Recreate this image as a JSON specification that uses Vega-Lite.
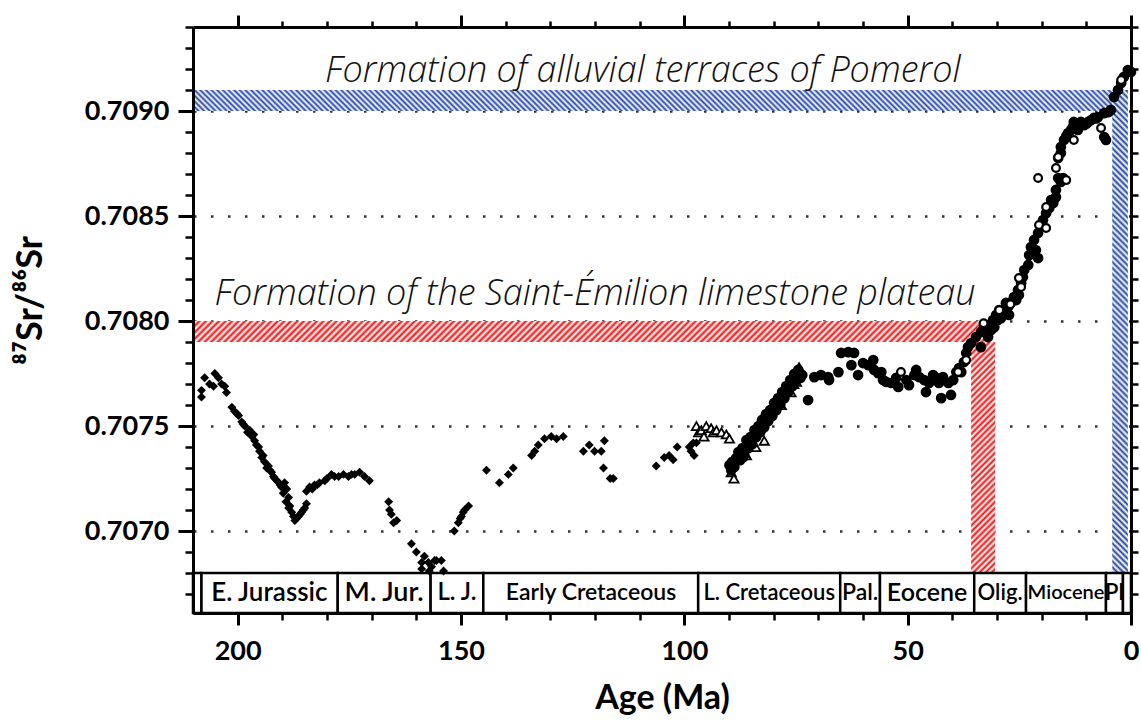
{
"$schema":"https://vega.github.io/schema/vega-lite/v6.json",
"width":938,"height":586,
"autosize":{"type":"none"},
"padding":{"left":193,"top":27,"right":10,"bottom":107},
"background":"white",
"config":{"view":{"stroke":null},"font":"Lato","axis":{"grid":false,"domainColor":"black","tickColor":"black","labelColor":"black","titleColor":"black","labelFont":"Lato","titleFont":"Lato"}},
"resolve":{"axis":{"x":"independent","y":"independent"}},
"datasets":{
"periods":[
{"name":"","start":210,"end":208.1,"mid":209},
{"name":"E. Jurassic","start":208.1,"end":177.6,"mid":192.9},
{"name":"M. Jur.","start":177.6,"end":156.8,"mid":167.2},
{"name":"L. J.","start":156.8,"end":145,"mid":150.9},
{"name":"Early Cretaceous","start":145,"end":96.9,"mid":120.9},
{"name":"L. Cretaceous","start":96.9,"end":65.1,"mid":81},
{"name":"Pal.","start":65.1,"end":56.2,"mid":60.65},
{"name":"Eocene","start":56.2,"end":35.1,"mid":45.65},
{"name":"Olig.","start":35.1,"end":23.5,"mid":29.3},
{"name":"Miocene","start":23.5,"end":5.6,"mid":14.55},
{"name":"Pl","start":5.6,"end":1.8,"mid":3.7},
{"name":"","start":1.8,"end":0,"mid":0.9}
],
"diamonds":[
{"age":208.1,"sr":0.70767},{"age":208.1,"sr":0.707638},{"age":207.4,"sr":0.70773},{"age":206.3,"sr":0.7077},{"age":205.4,"sr":0.70769},{"age":205.1,"sr":0.70775},{"age":204.3,"sr":0.70773},{"age":203.6,"sr":0.7077},{"age":202.9,"sr":0.70769},{"age":202.5,"sr":0.70766},
{"age":201.3,"sr":0.70759},{"age":200.7,"sr":0.70757},{"age":200.2,"sr":0.70756},{"age":199.8,"sr":0.70755},{"age":199.1,"sr":0.70752},{"age":198.8,"sr":0.70751},{"age":198.4,"sr":0.7075},{"age":197.8,"sr":0.70747},{"age":197.3,"sr":0.70748},{"age":196.8,"sr":0.70745},{"age":196.4,"sr":0.70746},{"age":196.2,"sr":0.70743},{"age":195.8,"sr":0.70741},{"age":195.3,"sr":0.7074},{"age":195.1,"sr":0.70738},{"age":194.6,"sr":0.70735},{"age":194.3,"sr":0.70736},{"age":194,"sr":0.70733},{"age":193.5,"sr":0.7073},{"age":193.1,"sr":0.70731},{"age":192.8,"sr":0.70729},{"age":192.4,"sr":0.70728},{"age":192,"sr":0.70726},{"age":191.7,"sr":0.70725},{"age":191.2,"sr":0.70724},{"age":190.8,"sr":0.70723},{"age":190.5,"sr":0.70722},{"age":190.2,"sr":0.70721},{"age":189.8,"sr":0.70718},{"age":189.5,"sr":0.70723},{"age":189.2,"sr":0.70714},{"age":189,"sr":0.7072},{"age":188.6,"sr":0.70716},{"age":188.6,"sr":0.70711},{"age":188.3,"sr":0.70712},{"age":187.9,"sr":0.70709},{"age":187.5,"sr":0.70707},{"age":187.2,"sr":0.70705},{"age":186.8,"sr":0.70706},{"age":186.4,"sr":0.70707},{"age":186,"sr":0.70708},{"age":185.7,"sr":0.70709},{"age":185.3,"sr":0.7071},{"age":185,"sr":0.70711},{"age":184.6,"sr":0.70713},
{"age":184.6,"sr":0.70719},{"age":183.9,"sr":0.70721},{"age":183.3,"sr":0.7072},{"age":182.8,"sr":0.70722},{"age":182.2,"sr":0.70722},{"age":181.7,"sr":0.70723},{"age":180.5,"sr":0.70724},{"age":180,"sr":0.70725},{"age":179,"sr":0.70727},{"age":178.3,"sr":0.70726},{"age":177.4,"sr":0.70726},{"age":176.3,"sr":0.70727},{"age":175.2,"sr":0.70726},{"age":174.5,"sr":0.70727},{"age":173.8,"sr":0.70727},{"age":172.7,"sr":0.70728},{"age":171.6,"sr":0.70726},{"age":170.5,"sr":0.70724},
{"age":166.2,"sr":0.70714},{"age":166,"sr":0.7071},{"age":165.6,"sr":0.70708},{"age":165.1,"sr":0.70704},{"age":164.4,"sr":0.70705},
{"age":161.1,"sr":0.70694},{"age":160,"sr":0.7069},{"age":158.8,"sr":0.70685},{"age":158.2,"sr":0.70688},{"age":157.3,"sr":0.70685},{"age":156.6,"sr":0.70683},{"age":155.9,"sr":0.70686},{"age":155.5,"sr":0.70686},{"age":154.4,"sr":0.70686},{"age":153.9,"sr":0.70681},{"age":158.8,"sr":0.70682},{"age":157.1,"sr":0.70681},
{"age":151.5,"sr":0.707},{"age":150.6,"sr":0.70704},{"age":150.2,"sr":0.70706},{"age":149.9,"sr":0.70707},{"age":149.5,"sr":0.70709},{"age":149.2,"sr":0.7071},{"age":148.3,"sr":0.70712},
{"age":144.3,"sr":0.70729},{"age":141.4,"sr":0.70723},{"age":139.4,"sr":0.70727},{"age":138.3,"sr":0.7073},
{"age":134.2,"sr":0.70736},{"age":133.5,"sr":0.70738},{"age":132.7,"sr":0.70741},{"age":131.3,"sr":0.70744},{"age":129.8,"sr":0.70745},{"age":128.6,"sr":0.70744},{"age":127.1,"sr":0.70745},
{"age":122.6,"sr":0.70738},{"age":121.3,"sr":0.70741},{"age":120.1,"sr":0.70738},{"age":118.6,"sr":0.70738},{"age":117.9,"sr":0.70743},
{"age":118.1,"sr":0.7073},{"age":116.6,"sr":0.70725},{"age":115.9,"sr":0.70725},
{"age":106.3,"sr":0.70731},{"age":104.5,"sr":0.70735},{"age":103.4,"sr":0.70736},{"age":102.5,"sr":0.70734},{"age":101.6,"sr":0.7074},
{"age":98.9,"sr":0.7074},{"age":98,"sr":0.70742},{"age":97.3,"sr":0.70742},{"age":97.8,"sr":0.70736},{"age":98.5,"sr":0.70738}
],
"triangles":[
{"age":97.3,"sr":0.7075},{"age":96.8,"sr":0.70747},{"age":96.2,"sr":0.70748},{"age":95.6,"sr":0.70745},{"age":95.1,"sr":0.7075},{"age":94,"sr":0.70749},{"age":93.5,"sr":0.70747},{"age":92.8,"sr":0.70748},{"age":91.7,"sr":0.70747},{"age":90.6,"sr":0.70746},{"age":89.9,"sr":0.70744},{"age":89.5,"sr":0.70728},{"age":88.9,"sr":0.70725},{"age":86.1,"sr":0.70736},{"age":84,"sr":0.7074},{"age":82.8,"sr":0.70753},{"age":82.1,"sr":0.70743},{"age":80.1,"sr":0.70759},{"age":78.3,"sr":0.7076},{"age":76.1,"sr":0.70766},{"age":75.5,"sr":0.7077},{"age":74.9,"sr":0.70771},{"age":74.3,"sr":0.70778}
],
"circles":[
{"age":89.9,"sr":0.707314},{"age":89.5,"sr":0.70729},{"age":89.3,"sr":0.707329},{"age":88.8,"sr":0.707305},{"age":88.4,"sr":0.707348},{"age":87.9,"sr":0.707376},{"age":87.5,"sr":0.707338},{"age":87,"sr":0.707395},{"age":86.6,"sr":0.707362},{"age":86.1,"sr":0.707433},{"age":85.7,"sr":0.707395},{"age":85.2,"sr":0.707448},{"age":84.8,"sr":0.707414},{"age":84.3,"sr":0.707481},{"age":83.9,"sr":0.707448},{"age":83.4,"sr":0.7075},{"age":83,"sr":0.707471},{"age":82.6,"sr":0.707529},{"age":82.1,"sr":0.707495},{"age":81.7,"sr":0.707557},{"age":81.2,"sr":0.707524},{"age":80.8,"sr":0.707576},{"age":80.3,"sr":0.707548},{"age":79.9,"sr":0.70761},{"age":79.4,"sr":0.707576},{"age":79,"sr":0.707633},{"age":78.5,"sr":0.707605},{"age":78.1,"sr":0.707662},{"age":77.6,"sr":0.707633},{"age":77.2,"sr":0.70769},{"age":76.7,"sr":0.707662},{"age":76.3,"sr":0.707719},{"age":75.8,"sr":0.70769},{"age":75.4,"sr":0.707748},{"age":74.9,"sr":0.707719},{"age":74.5,"sr":0.707767},{"age":74,"sr":0.707729},{"age":73.6,"sr":0.707743},
{"age":86.9,"sr":0.70735},{"age":85.5,"sr":0.70742},{"age":84.1,"sr":0.70746},{"age":82.9,"sr":0.70749},{"age":81.5,"sr":0.70754},{"age":80.1,"sr":0.70757},{"age":78.8,"sr":0.70763},{"age":77.4,"sr":0.70767},{"age":76,"sr":0.7077},
{"age":72.3,"sr":0.707624},{"age":70.9,"sr":0.707733},{"age":69.4,"sr":0.707743},{"age":67.8,"sr":0.707733},{"age":67.6,"sr":0.707719},{"age":65.5,"sr":0.707757},{"age":64.9,"sr":0.707848},{"age":63.3,"sr":0.707852},{"age":62,"sr":0.707848},{"age":62.6,"sr":0.70779},{"age":61.1,"sr":0.707743},{"age":60,"sr":0.7078},{"age":58.8,"sr":0.70779},{"age":57.7,"sr":0.707814},{"age":57.5,"sr":0.707767},{"age":56.6,"sr":0.707752},{"age":55.9,"sr":0.707757},{"age":55.5,"sr":0.707719},{"age":54.8,"sr":0.70771},{"age":53.7,"sr":0.707705},{"age":52.6,"sr":0.707729},{"age":52.1,"sr":0.707686},{"age":50.3,"sr":0.707719},{"age":49.7,"sr":0.707695},{"age":48.5,"sr":0.707743},{"age":48.1,"sr":0.707767},{"age":47.4,"sr":0.707733},{"age":46.3,"sr":0.707719},{"age":45.9,"sr":0.707662},{"age":45.2,"sr":0.707705},{"age":44.3,"sr":0.707743},{"age":43.6,"sr":0.707729},{"age":43,"sr":0.707705},{"age":42.5,"sr":0.707633},{"age":42.1,"sr":0.707733},{"age":40.9,"sr":0.707705},{"age":40.3,"sr":0.707648},{"age":39.8,"sr":0.707719},{"age":39.1,"sr":0.707757},{"age":38.5,"sr":0.707776},{"age":38,"sr":0.707757},{"age":37.4,"sr":0.707805},{"age":36.9,"sr":0.707848},{"age":36.5,"sr":0.707876},{"age":35.8,"sr":0.707895},
{"age":34.7,"sr":0.707924},{"age":33.6,"sr":0.707948},{"age":33.6,"sr":0.707876},{"age":32.9,"sr":0.707967},{"age":32,"sr":0.707981},{"age":32,"sr":0.707924},{"age":31.3,"sr":0.707957},{"age":30.9,"sr":0.708005},{"age":30.6,"sr":0.707971},{"age":30.2,"sr":0.708029},{"age":29.8,"sr":0.708005},{"age":29.5,"sr":0.708052},{"age":29.1,"sr":0.708014},{"age":28.4,"sr":0.708038},{"age":28,"sr":0.708086},{"age":27.5,"sr":0.708067},{"age":27.3,"sr":0.708029},{"age":26.8,"sr":0.70809},{"age":26.2,"sr":0.708114},{"age":25.7,"sr":0.7081},{"age":25.3,"sr":0.708148},{"age":25.1,"sr":0.708124},{"age":24.6,"sr":0.708181},{"age":24.2,"sr":0.70821},{"age":23.9,"sr":0.708243},{"age":23,"sr":0.708267},{"age":22.8,"sr":0.708314},{"age":22.4,"sr":0.708352},{"age":21.7,"sr":0.708386},{"age":21.3,"sr":0.708338},{"age":20.8,"sr":0.7083},{"age":20.8,"sr":0.708419},{"age":20.1,"sr":0.708448},{"age":19.7,"sr":0.708481},{"age":19,"sr":0.708514},{"age":18.3,"sr":0.708538},{"age":17.9,"sr":0.708576},{"age":17.4,"sr":0.708562},{"age":16.8,"sr":0.70859},{"age":16.8,"sr":0.708624},{"age":16.3,"sr":0.708681},{"age":15.7,"sr":0.708662},{"age":15.2,"sr":0.708681},{"age":16.3,"sr":0.708776},{"age":15.7,"sr":0.7088},{"age":15.7,"sr":0.708829},{"age":15,"sr":0.708862},{"age":14.5,"sr":0.70888},{"age":14.1,"sr":0.708895},{"age":13.4,"sr":0.70891},{"age":13,"sr":0.708925},{"age":12.8,"sr":0.708948},{"age":12.3,"sr":0.708933},{"age":11.9,"sr":0.70891},{"age":11.2,"sr":0.708948},{"age":10.5,"sr":0.708933},{"age":10,"sr":0.70894},{"age":9.6,"sr":0.708948},{"age":8.9,"sr":0.708957},{"age":8.3,"sr":0.708967},{"age":7.8,"sr":0.708965},{"age":7.4,"sr":0.708971},{"age":6,"sr":0.70899},{"age":5,"sr":0.708995},{"age":4.5,"sr":0.709005},{"age":6,"sr":0.708876},{"age":5.6,"sr":0.708862},{"age":3.8,"sr":0.709067},{"age":2.9,"sr":0.7091},{"age":2.2,"sr":0.709133},{"age":1.6,"sr":0.709162},{"age":0.7,"sr":0.709195},{"age":0,"sr":0.709186}
],
"opencircles":[
{"age":51.5,"sr":0.707757},{"age":38.7,"sr":0.707757},{"age":36.9,"sr":0.707814},{"age":33,"sr":0.70799},{"age":29.5,"sr":0.708052},{"age":27,"sr":0.70808},{"age":25.1,"sr":0.708205},{"age":24.6,"sr":0.708162},{"age":20.6,"sr":0.708457},{"age":19,"sr":0.708443},{"age":19,"sr":0.708543},{"age":20.8,"sr":0.708681},{"age":16.8,"sr":0.708729},{"age":14.5,"sr":0.708671},{"age":16.3,"sr":0.708781},{"age":12.8,"sr":0.708862},{"age":6.7,"sr":0.708919},{"age":2.2,"sr":0.709148}
]
},
"layer":[
{"data":{"values":[{"band":"Pomerol","a0":210,"a1":4.2,"s0":0.709,"s1":0.7091}]},
"mark":{"type":"rect","fill":{"gradient":"linear","x1":0,"y1":1,"x2":1.0223,"y2":0.9766,"stops":[
{"offset":0,"color":"#24a"},{"offset":0.003,"color":"#fff"},{"offset":0.006,"color":"#24a"},{"offset":0.009,"color":"#fff"},{"offset":0.012,"color":"#24a"},{"offset":0.015,"color":"#fff"},{"offset":0.018,"color":"#24a"},{"offset":0.021,"color":"#fff"},{"offset":0.024,"color":"#24a"},{"offset":0.027,"color":"#fff"},
{"offset":0.03,"color":"#24a"},{"offset":0.033,"color":"#fff"},{"offset":0.036,"color":"#24a"},{"offset":0.039,"color":"#fff"},{"offset":0.042,"color":"#24a"},{"offset":0.045,"color":"#fff"},{"offset":0.048,"color":"#24a"},{"offset":0.051,"color":"#fff"},{"offset":0.054,"color":"#24a"},{"offset":0.057,"color":"#fff"},
{"offset":0.06,"color":"#24a"},{"offset":0.063,"color":"#fff"},{"offset":0.066,"color":"#24a"},{"offset":0.069,"color":"#fff"},{"offset":0.072,"color":"#24a"},{"offset":0.075,"color":"#fff"},{"offset":0.078,"color":"#24a"},{"offset":0.081,"color":"#fff"},{"offset":0.084,"color":"#24a"},{"offset":0.087,"color":"#fff"},
{"offset":0.09,"color":"#24a"},{"offset":0.093,"color":"#fff"},{"offset":0.096,"color":"#24a"},{"offset":0.099,"color":"#fff"},{"offset":0.102,"color":"#24a"},{"offset":0.105,"color":"#fff"},{"offset":0.108,"color":"#24a"},{"offset":0.111,"color":"#fff"},{"offset":0.114,"color":"#24a"},{"offset":0.117,"color":"#fff"},
{"offset":0.12,"color":"#24a"},{"offset":0.123,"color":"#fff"},{"offset":0.126,"color":"#24a"},{"offset":0.129,"color":"#fff"},{"offset":0.132,"color":"#24a"},{"offset":0.135,"color":"#fff"},{"offset":0.138,"color":"#24a"},{"offset":0.141,"color":"#fff"},{"offset":0.144,"color":"#24a"},{"offset":0.147,"color":"#fff"},
{"offset":0.15,"color":"#24a"},{"offset":0.153,"color":"#fff"},{"offset":0.156,"color":"#24a"},{"offset":0.159,"color":"#fff"},{"offset":0.162,"color":"#24a"},{"offset":0.165,"color":"#fff"},{"offset":0.168,"color":"#24a"},{"offset":0.171,"color":"#fff"},{"offset":0.174,"color":"#24a"},{"offset":0.177,"color":"#fff"},
{"offset":0.18,"color":"#24a"},{"offset":0.183,"color":"#fff"},{"offset":0.186,"color":"#24a"},{"offset":0.189,"color":"#fff"},{"offset":0.192,"color":"#24a"},{"offset":0.195,"color":"#fff"},{"offset":0.198,"color":"#24a"},{"offset":0.201,"color":"#fff"},{"offset":0.204,"color":"#24a"},{"offset":0.207,"color":"#fff"},
{"offset":0.21,"color":"#24a"},{"offset":0.213,"color":"#fff"},{"offset":0.216,"color":"#24a"},{"offset":0.219,"color":"#fff"},{"offset":0.222,"color":"#24a"},{"offset":0.225,"color":"#fff"},{"offset":0.228,"color":"#24a"},{"offset":0.231,"color":"#fff"},{"offset":0.234,"color":"#24a"},{"offset":0.237,"color":"#fff"},
{"offset":0.24,"color":"#24a"},{"offset":0.243,"color":"#fff"},{"offset":0.246,"color":"#24a"},{"offset":0.249,"color":"#fff"},{"offset":0.252,"color":"#24a"},{"offset":0.255,"color":"#fff"},{"offset":0.258,"color":"#24a"},{"offset":0.261,"color":"#fff"},{"offset":0.264,"color":"#24a"},{"offset":0.267,"color":"#fff"},
{"offset":0.27,"color":"#24a"},{"offset":0.273,"color":"#fff"},{"offset":0.276,"color":"#24a"},{"offset":0.279,"color":"#fff"},{"offset":0.282,"color":"#24a"},{"offset":0.285,"color":"#fff"},{"offset":0.288,"color":"#24a"},{"offset":0.291,"color":"#fff"},{"offset":0.294,"color":"#24a"},{"offset":0.297,"color":"#fff"},
{"offset":0.3,"color":"#24a"},{"offset":0.303,"color":"#fff"},{"offset":0.306,"color":"#24a"},{"offset":0.309,"color":"#fff"},{"offset":0.312,"color":"#24a"},{"offset":0.315,"color":"#fff"},{"offset":0.318,"color":"#24a"},{"offset":0.321,"color":"#fff"},{"offset":0.324,"color":"#24a"},{"offset":0.327,"color":"#fff"},
{"offset":0.33,"color":"#24a"},{"offset":0.333,"color":"#fff"},{"offset":0.336,"color":"#24a"},{"offset":0.339,"color":"#fff"},{"offset":0.342,"color":"#24a"},{"offset":0.345,"color":"#fff"},{"offset":0.348,"color":"#24a"},{"offset":0.351,"color":"#fff"},{"offset":0.354,"color":"#24a"},{"offset":0.357,"color":"#fff"},
{"offset":0.36,"color":"#24a"},{"offset":0.363,"color":"#fff"},{"offset":0.366,"color":"#24a"},{"offset":0.369,"color":"#fff"},{"offset":0.372,"color":"#24a"},{"offset":0.375,"color":"#fff"},{"offset":0.378,"color":"#24a"},{"offset":0.381,"color":"#fff"},{"offset":0.384,"color":"#24a"},{"offset":0.387,"color":"#fff"},
{"offset":0.39,"color":"#24a"},{"offset":0.393,"color":"#fff"},{"offset":0.396,"color":"#24a"},{"offset":0.399,"color":"#fff"},{"offset":0.402,"color":"#24a"},{"offset":0.405,"color":"#fff"},{"offset":0.408,"color":"#24a"},{"offset":0.411,"color":"#fff"},{"offset":0.414,"color":"#24a"},{"offset":0.417,"color":"#fff"},
{"offset":0.42,"color":"#24a"},{"offset":0.423,"color":"#fff"},{"offset":0.426,"color":"#24a"},{"offset":0.429,"color":"#fff"},{"offset":0.432,"color":"#24a"},{"offset":0.435,"color":"#fff"},{"offset":0.438,"color":"#24a"},{"offset":0.441,"color":"#fff"},{"offset":0.444,"color":"#24a"},{"offset":0.447,"color":"#fff"},
{"offset":0.45,"color":"#24a"},{"offset":0.453,"color":"#fff"},{"offset":0.456,"color":"#24a"},{"offset":0.459,"color":"#fff"},{"offset":0.462,"color":"#24a"},{"offset":0.465,"color":"#fff"},{"offset":0.468,"color":"#24a"},{"offset":0.471,"color":"#fff"},{"offset":0.474,"color":"#24a"},{"offset":0.477,"color":"#fff"},
{"offset":0.48,"color":"#24a"},{"offset":0.483,"color":"#fff"},{"offset":0.486,"color":"#24a"},{"offset":0.489,"color":"#fff"},{"offset":0.492,"color":"#24a"},{"offset":0.495,"color":"#fff"},{"offset":0.498,"color":"#24a"},{"offset":0.501,"color":"#fff"},{"offset":0.504,"color":"#24a"},{"offset":0.507,"color":"#fff"},
{"offset":0.51,"color":"#24a"},{"offset":0.513,"color":"#fff"},{"offset":0.516,"color":"#24a"},{"offset":0.519,"color":"#fff"},{"offset":0.522,"color":"#24a"},{"offset":0.525,"color":"#fff"},{"offset":0.528,"color":"#24a"},{"offset":0.531,"color":"#fff"},{"offset":0.534,"color":"#24a"},{"offset":0.537,"color":"#fff"},
{"offset":0.54,"color":"#24a"},{"offset":0.543,"color":"#fff"},{"offset":0.546,"color":"#24a"},{"offset":0.549,"color":"#fff"},{"offset":0.552,"color":"#24a"},{"offset":0.555,"color":"#fff"},{"offset":0.558,"color":"#24a"},{"offset":0.561,"color":"#fff"},{"offset":0.564,"color":"#24a"},{"offset":0.567,"color":"#fff"},
{"offset":0.57,"color":"#24a"},{"offset":0.573,"color":"#fff"},{"offset":0.576,"color":"#24a"},{"offset":0.579,"color":"#fff"},{"offset":0.582,"color":"#24a"},{"offset":0.585,"color":"#fff"},{"offset":0.588,"color":"#24a"},{"offset":0.591,"color":"#fff"},{"offset":0.594,"color":"#24a"},{"offset":0.597,"color":"#fff"},
{"offset":0.6,"color":"#24a"},{"offset":0.603,"color":"#fff"},{"offset":0.606,"color":"#24a"},{"offset":0.609,"color":"#fff"},{"offset":0.612,"color":"#24a"},{"offset":0.615,"color":"#fff"},{"offset":0.618,"color":"#24a"},{"offset":0.621,"color":"#fff"},{"offset":0.624,"color":"#24a"},{"offset":0.627,"color":"#fff"},
{"offset":0.63,"color":"#24a"},{"offset":0.633,"color":"#fff"},{"offset":0.636,"color":"#24a"},{"offset":0.639,"color":"#fff"},{"offset":0.642,"color":"#24a"},{"offset":0.645,"color":"#fff"},{"offset":0.648,"color":"#24a"},{"offset":0.651,"color":"#fff"},{"offset":0.654,"color":"#24a"},{"offset":0.657,"color":"#fff"},
{"offset":0.66,"color":"#24a"},{"offset":0.663,"color":"#fff"},{"offset":0.666,"color":"#24a"},{"offset":0.669,"color":"#fff"},{"offset":0.672,"color":"#24a"},{"offset":0.675,"color":"#fff"},{"offset":0.678,"color":"#24a"},{"offset":0.681,"color":"#fff"},{"offset":0.684,"color":"#24a"},{"offset":0.687,"color":"#fff"},
{"offset":0.69,"color":"#24a"},{"offset":0.693,"color":"#fff"},{"offset":0.696,"color":"#24a"},{"offset":0.699,"color":"#fff"},{"offset":0.702,"color":"#24a"},{"offset":0.705,"color":"#fff"},{"offset":0.708,"color":"#24a"},{"offset":0.711,"color":"#fff"},{"offset":0.714,"color":"#24a"},{"offset":0.717,"color":"#fff"},
{"offset":0.72,"color":"#24a"},{"offset":0.723,"color":"#fff"},{"offset":0.726,"color":"#24a"},{"offset":0.729,"color":"#fff"},{"offset":0.732,"color":"#24a"},{"offset":0.735,"color":"#fff"},{"offset":0.738,"color":"#24a"},{"offset":0.741,"color":"#fff"},{"offset":0.744,"color":"#24a"},{"offset":0.747,"color":"#fff"},
{"offset":0.75,"color":"#24a"},{"offset":0.753,"color":"#fff"},{"offset":0.756,"color":"#24a"},{"offset":0.759,"color":"#fff"},{"offset":0.762,"color":"#24a"},{"offset":0.765,"color":"#fff"},{"offset":0.768,"color":"#24a"},{"offset":0.771,"color":"#fff"},{"offset":0.774,"color":"#24a"},{"offset":0.777,"color":"#fff"},
{"offset":0.78,"color":"#24a"},{"offset":0.783,"color":"#fff"},{"offset":0.786,"color":"#24a"},{"offset":0.789,"color":"#fff"},{"offset":0.792,"color":"#24a"},{"offset":0.795,"color":"#fff"},{"offset":0.798,"color":"#24a"},{"offset":0.801,"color":"#fff"},{"offset":0.804,"color":"#24a"},{"offset":0.807,"color":"#fff"},
{"offset":0.81,"color":"#24a"},{"offset":0.813,"color":"#fff"},{"offset":0.816,"color":"#24a"},{"offset":0.819,"color":"#fff"},{"offset":0.822,"color":"#24a"},{"offset":0.825,"color":"#fff"},{"offset":0.828,"color":"#24a"},{"offset":0.831,"color":"#fff"},{"offset":0.834,"color":"#24a"},{"offset":0.837,"color":"#fff"},
{"offset":0.84,"color":"#24a"},{"offset":0.843,"color":"#fff"},{"offset":0.846,"color":"#24a"},{"offset":0.849,"color":"#fff"},{"offset":0.852,"color":"#24a"},{"offset":0.855,"color":"#fff"},{"offset":0.858,"color":"#24a"},{"offset":0.861,"color":"#fff"},{"offset":0.864,"color":"#24a"},{"offset":0.867,"color":"#fff"},
{"offset":0.87,"color":"#24a"},{"offset":0.873,"color":"#fff"},{"offset":0.876,"color":"#24a"},{"offset":0.879,"color":"#fff"},{"offset":0.882,"color":"#24a"},{"offset":0.885,"color":"#fff"},{"offset":0.888,"color":"#24a"},{"offset":0.891,"color":"#fff"},{"offset":0.894,"color":"#24a"},{"offset":0.897,"color":"#fff"},
{"offset":0.9,"color":"#24a"},{"offset":0.903,"color":"#fff"},{"offset":0.906,"color":"#24a"},{"offset":0.909,"color":"#fff"},{"offset":0.912,"color":"#24a"},{"offset":0.915,"color":"#fff"},{"offset":0.918,"color":"#24a"},{"offset":0.921,"color":"#fff"},{"offset":0.924,"color":"#24a"},{"offset":0.927,"color":"#fff"},
{"offset":0.93,"color":"#24a"},{"offset":0.933,"color":"#fff"},{"offset":0.936,"color":"#24a"},{"offset":0.939,"color":"#fff"},{"offset":0.942,"color":"#24a"},{"offset":0.945,"color":"#fff"},{"offset":0.948,"color":"#24a"},{"offset":0.951,"color":"#fff"},{"offset":0.954,"color":"#24a"},{"offset":0.957,"color":"#fff"},
{"offset":0.96,"color":"#24a"},{"offset":0.963,"color":"#fff"},{"offset":0.966,"color":"#24a"},{"offset":0.969,"color":"#fff"},{"offset":0.972,"color":"#24a"},{"offset":0.975,"color":"#fff"},{"offset":0.978,"color":"#24a"},{"offset":0.981,"color":"#fff"},{"offset":0.984,"color":"#24a"},{"offset":0.987,"color":"#fff"},
{"offset":0.99,"color":"#24a"},{"offset":0.993,"color":"#fff"},{"offset":0.996,"color":"#24a"},{"offset":0.999,"color":"#fff"}
]}},
"encoding":{
"x":{"field":"a0","type":"quantitative","scale":{"domain":[0,210],"reverse":true,"nice":false,"zero":false},"axis":{"orient":"bottom","values":[200,150,100,50,0],"format":"d","title":"Age (Ma)","tickSize":12,"tickWidth":3,"domainWidth":3,"labelFontSize":27,"labelFontWeight":"bold","labelPadding":13,"labelFlush":false,"labelOverlap":false,"titleFontSize":34,"titleFontWeight":"bold","titlePadding":17,"zindex":1}},
"x2":{"field":"a1"},
"y":{"field":"s0","type":"quantitative","scale":{"domain":[0.70661,0.7094],"nice":false,"zero":false},"axis":{"orient":"left","values":[0.707,0.7075,0.708,0.7085,0.709],"format":".4f","title":"⁸⁷Sr/⁸⁶Sr","tickSize":15,"tickWidth":3,"domainWidth":3,"labelFontSize":27,"labelFontWeight":"bold","labelPadding":9,"labelFlush":false,"labelOverlap":false,"titleFontSize":36,"titleFontWeight":"bold","titlePadding":35,"titleY":273,"zindex":1}},
"y2":{"field":"s1"}
}},
{"data":{"values":[{"band":"Pomerol","a0":4.2,"a1":0.7,"s0":0.7068,"s1":0.7091}]},
"mark":{"type":"rect","fill":{"gradient":"linear","x1":0,"y1":1,"x2":0.0333,"y2":-0.0313,"stops":[
{"offset":0,"color":"#24a"},{"offset":0.006,"color":"#fff"},{"offset":0.012,"color":"#24a"},{"offset":0.018,"color":"#fff"},{"offset":0.024,"color":"#24a"},{"offset":0.03,"color":"#fff"},{"offset":0.036,"color":"#24a"},{"offset":0.042,"color":"#fff"},{"offset":0.048,"color":"#24a"},{"offset":0.054,"color":"#fff"},
{"offset":0.06,"color":"#24a"},{"offset":0.066,"color":"#fff"},{"offset":0.072,"color":"#24a"},{"offset":0.078,"color":"#fff"},{"offset":0.084,"color":"#24a"},{"offset":0.09,"color":"#fff"},{"offset":0.096,"color":"#24a"},{"offset":0.102,"color":"#fff"},{"offset":0.108,"color":"#24a"},{"offset":0.114,"color":"#fff"},
{"offset":0.12,"color":"#24a"},{"offset":0.126,"color":"#fff"},{"offset":0.132,"color":"#24a"},{"offset":0.138,"color":"#fff"},{"offset":0.144,"color":"#24a"},{"offset":0.15,"color":"#fff"},{"offset":0.156,"color":"#24a"},{"offset":0.162,"color":"#fff"},{"offset":0.168,"color":"#24a"},{"offset":0.174,"color":"#fff"},
{"offset":0.18,"color":"#24a"},{"offset":0.186,"color":"#fff"},{"offset":0.192,"color":"#24a"},{"offset":0.198,"color":"#fff"},{"offset":0.204,"color":"#24a"},{"offset":0.21,"color":"#fff"},{"offset":0.216,"color":"#24a"},{"offset":0.222,"color":"#fff"},{"offset":0.228,"color":"#24a"},{"offset":0.234,"color":"#fff"},
{"offset":0.24,"color":"#24a"},{"offset":0.246,"color":"#fff"},{"offset":0.252,"color":"#24a"},{"offset":0.258,"color":"#fff"},{"offset":0.264,"color":"#24a"},{"offset":0.27,"color":"#fff"},{"offset":0.276,"color":"#24a"},{"offset":0.282,"color":"#fff"},{"offset":0.288,"color":"#24a"},{"offset":0.294,"color":"#fff"},
{"offset":0.3,"color":"#24a"},{"offset":0.306,"color":"#fff"},{"offset":0.312,"color":"#24a"},{"offset":0.318,"color":"#fff"},{"offset":0.324,"color":"#24a"},{"offset":0.33,"color":"#fff"},{"offset":0.336,"color":"#24a"},{"offset":0.342,"color":"#fff"},{"offset":0.348,"color":"#24a"},{"offset":0.354,"color":"#fff"},
{"offset":0.36,"color":"#24a"},{"offset":0.366,"color":"#fff"},{"offset":0.372,"color":"#24a"},{"offset":0.378,"color":"#fff"},{"offset":0.384,"color":"#24a"},{"offset":0.39,"color":"#fff"},{"offset":0.396,"color":"#24a"},{"offset":0.402,"color":"#fff"},{"offset":0.408,"color":"#24a"},{"offset":0.414,"color":"#fff"},
{"offset":0.42,"color":"#24a"},{"offset":0.426,"color":"#fff"},{"offset":0.432,"color":"#24a"},{"offset":0.438,"color":"#fff"},{"offset":0.444,"color":"#24a"},{"offset":0.45,"color":"#fff"},{"offset":0.456,"color":"#24a"},{"offset":0.462,"color":"#fff"},{"offset":0.468,"color":"#24a"},{"offset":0.474,"color":"#fff"},
{"offset":0.48,"color":"#24a"},{"offset":0.486,"color":"#fff"},{"offset":0.492,"color":"#24a"},{"offset":0.498,"color":"#fff"},{"offset":0.504,"color":"#24a"},{"offset":0.51,"color":"#fff"},{"offset":0.516,"color":"#24a"},{"offset":0.522,"color":"#fff"},{"offset":0.528,"color":"#24a"},{"offset":0.534,"color":"#fff"},
{"offset":0.54,"color":"#24a"},{"offset":0.546,"color":"#fff"},{"offset":0.552,"color":"#24a"},{"offset":0.558,"color":"#fff"},{"offset":0.564,"color":"#24a"},{"offset":0.57,"color":"#fff"},{"offset":0.576,"color":"#24a"},{"offset":0.582,"color":"#fff"},{"offset":0.588,"color":"#24a"},{"offset":0.594,"color":"#fff"},
{"offset":0.6,"color":"#24a"},{"offset":0.606,"color":"#fff"},{"offset":0.612,"color":"#24a"},{"offset":0.618,"color":"#fff"},{"offset":0.624,"color":"#24a"},{"offset":0.63,"color":"#fff"},{"offset":0.636,"color":"#24a"},{"offset":0.642,"color":"#fff"},{"offset":0.648,"color":"#24a"},{"offset":0.654,"color":"#fff"},
{"offset":0.66,"color":"#24a"},{"offset":0.666,"color":"#fff"},{"offset":0.672,"color":"#24a"},{"offset":0.678,"color":"#fff"},{"offset":0.684,"color":"#24a"},{"offset":0.69,"color":"#fff"},{"offset":0.696,"color":"#24a"},{"offset":0.702,"color":"#fff"},{"offset":0.708,"color":"#24a"},{"offset":0.714,"color":"#fff"},
{"offset":0.72,"color":"#24a"},{"offset":0.726,"color":"#fff"},{"offset":0.732,"color":"#24a"},{"offset":0.738,"color":"#fff"},{"offset":0.744,"color":"#24a"},{"offset":0.75,"color":"#fff"},{"offset":0.756,"color":"#24a"},{"offset":0.762,"color":"#fff"},{"offset":0.768,"color":"#24a"},{"offset":0.774,"color":"#fff"},
{"offset":0.78,"color":"#24a"},{"offset":0.786,"color":"#fff"},{"offset":0.792,"color":"#24a"},{"offset":0.798,"color":"#fff"},{"offset":0.804,"color":"#24a"},{"offset":0.81,"color":"#fff"},{"offset":0.816,"color":"#24a"},{"offset":0.822,"color":"#fff"},{"offset":0.828,"color":"#24a"},{"offset":0.834,"color":"#fff"},
{"offset":0.84,"color":"#24a"},{"offset":0.846,"color":"#fff"},{"offset":0.852,"color":"#24a"},{"offset":0.858,"color":"#fff"},{"offset":0.864,"color":"#24a"},{"offset":0.87,"color":"#fff"},{"offset":0.876,"color":"#24a"},{"offset":0.882,"color":"#fff"},{"offset":0.888,"color":"#24a"},{"offset":0.894,"color":"#fff"},
{"offset":0.9,"color":"#24a"},{"offset":0.906,"color":"#fff"},{"offset":0.912,"color":"#24a"},{"offset":0.918,"color":"#fff"},{"offset":0.924,"color":"#24a"},{"offset":0.93,"color":"#fff"},{"offset":0.936,"color":"#24a"},{"offset":0.942,"color":"#fff"},{"offset":0.948,"color":"#24a"},{"offset":0.954,"color":"#fff"},
{"offset":0.96,"color":"#24a"},{"offset":0.966,"color":"#fff"},{"offset":0.972,"color":"#24a"},{"offset":0.978,"color":"#fff"},{"offset":0.984,"color":"#24a"},{"offset":0.99,"color":"#fff"},{"offset":0.996,"color":"#24a"}
]}},
"encoding":{
"x":{"field":"a0","type":"quantitative","scale":{"domain":[0,210],"reverse":true,"nice":false,"zero":false},"axis":{"orient":"bottom","values":[0,10,20,30,40,50,60,70,80,90,100,110,120,130,140,150,160,170,180,190,200],"labels":false,"title":null,"tickSize":7,"tickWidth":2.5,"domain":false,"zindex":1}},
"x2":{"field":"a1"},
"y":{"field":"s0","type":"quantitative","scale":{"domain":[0.70661,0.7094],"nice":false,"zero":false},"axis":{"orient":"left","values":[0.7067,0.7068,0.7069,0.707,0.7071,0.7072,0.7073,0.7074,0.7075,0.7076,0.7077,0.7078,0.7079,0.708,0.7081,0.7082,0.7083,0.7084,0.7085,0.7086,0.7087,0.7088,0.7089,0.709,0.7091,0.7092,0.7093,0.7094],"labels":false,"title":null,"tickSize":8,"tickWidth":2.5,"domain":false,"zindex":1}},
"y2":{"field":"s1"}
}},
{"data":{"values":[{"band":"Saint-Emilion","a0":210,"a1":32,"s0":0.7079,"s1":0.708}]},
"mark":{"type":"rect","fill":{"gradient":"linear","x1":0,"y1":0,"x2":1.0257,"y2":0.0271,"stops":[
{"offset":0,"color":"#e11"},{"offset":0.004,"color":"#fff"},{"offset":0.008,"color":"#e11"},{"offset":0.012,"color":"#fff"},{"offset":0.016,"color":"#e11"},{"offset":0.02,"color":"#fff"},{"offset":0.024,"color":"#e11"},{"offset":0.028,"color":"#fff"},{"offset":0.032,"color":"#e11"},{"offset":0.036,"color":"#fff"},
{"offset":0.04,"color":"#e11"},{"offset":0.044,"color":"#fff"},{"offset":0.048,"color":"#e11"},{"offset":0.052,"color":"#fff"},{"offset":0.056,"color":"#e11"},{"offset":0.06,"color":"#fff"},{"offset":0.064,"color":"#e11"},{"offset":0.068,"color":"#fff"},{"offset":0.072,"color":"#e11"},{"offset":0.076,"color":"#fff"},
{"offset":0.08,"color":"#e11"},{"offset":0.084,"color":"#fff"},{"offset":0.088,"color":"#e11"},{"offset":0.092,"color":"#fff"},{"offset":0.096,"color":"#e11"},{"offset":0.1,"color":"#fff"},{"offset":0.104,"color":"#e11"},{"offset":0.108,"color":"#fff"},{"offset":0.112,"color":"#e11"},{"offset":0.116,"color":"#fff"},
{"offset":0.12,"color":"#e11"},{"offset":0.124,"color":"#fff"},{"offset":0.128,"color":"#e11"},{"offset":0.132,"color":"#fff"},{"offset":0.136,"color":"#e11"},{"offset":0.14,"color":"#fff"},{"offset":0.144,"color":"#e11"},{"offset":0.148,"color":"#fff"},{"offset":0.152,"color":"#e11"},{"offset":0.156,"color":"#fff"},
{"offset":0.16,"color":"#e11"},{"offset":0.164,"color":"#fff"},{"offset":0.168,"color":"#e11"},{"offset":0.172,"color":"#fff"},{"offset":0.176,"color":"#e11"},{"offset":0.18,"color":"#fff"},{"offset":0.184,"color":"#e11"},{"offset":0.188,"color":"#fff"},{"offset":0.192,"color":"#e11"},{"offset":0.196,"color":"#fff"},
{"offset":0.2,"color":"#e11"},{"offset":0.204,"color":"#fff"},{"offset":0.208,"color":"#e11"},{"offset":0.212,"color":"#fff"},{"offset":0.216,"color":"#e11"},{"offset":0.22,"color":"#fff"},{"offset":0.224,"color":"#e11"},{"offset":0.228,"color":"#fff"},{"offset":0.232,"color":"#e11"},{"offset":0.236,"color":"#fff"},
{"offset":0.24,"color":"#e11"},{"offset":0.244,"color":"#fff"},{"offset":0.248,"color":"#e11"},{"offset":0.252,"color":"#fff"},{"offset":0.256,"color":"#e11"},{"offset":0.26,"color":"#fff"},{"offset":0.264,"color":"#e11"},{"offset":0.268,"color":"#fff"},{"offset":0.272,"color":"#e11"},{"offset":0.276,"color":"#fff"},
{"offset":0.28,"color":"#e11"},{"offset":0.284,"color":"#fff"},{"offset":0.288,"color":"#e11"},{"offset":0.292,"color":"#fff"},{"offset":0.296,"color":"#e11"},{"offset":0.3,"color":"#fff"},{"offset":0.304,"color":"#e11"},{"offset":0.308,"color":"#fff"},{"offset":0.312,"color":"#e11"},{"offset":0.316,"color":"#fff"},
{"offset":0.32,"color":"#e11"},{"offset":0.324,"color":"#fff"},{"offset":0.328,"color":"#e11"},{"offset":0.332,"color":"#fff"},{"offset":0.336,"color":"#e11"},{"offset":0.34,"color":"#fff"},{"offset":0.344,"color":"#e11"},{"offset":0.348,"color":"#fff"},{"offset":0.352,"color":"#e11"},{"offset":0.356,"color":"#fff"},
{"offset":0.36,"color":"#e11"},{"offset":0.364,"color":"#fff"},{"offset":0.368,"color":"#e11"},{"offset":0.372,"color":"#fff"},{"offset":0.376,"color":"#e11"},{"offset":0.38,"color":"#fff"},{"offset":0.384,"color":"#e11"},{"offset":0.388,"color":"#fff"},{"offset":0.392,"color":"#e11"},{"offset":0.396,"color":"#fff"},
{"offset":0.4,"color":"#e11"},{"offset":0.404,"color":"#fff"},{"offset":0.408,"color":"#e11"},{"offset":0.412,"color":"#fff"},{"offset":0.416,"color":"#e11"},{"offset":0.42,"color":"#fff"},{"offset":0.424,"color":"#e11"},{"offset":0.428,"color":"#fff"},{"offset":0.432,"color":"#e11"},{"offset":0.436,"color":"#fff"},
{"offset":0.44,"color":"#e11"},{"offset":0.444,"color":"#fff"},{"offset":0.448,"color":"#e11"},{"offset":0.452,"color":"#fff"},{"offset":0.456,"color":"#e11"},{"offset":0.46,"color":"#fff"},{"offset":0.464,"color":"#e11"},{"offset":0.468,"color":"#fff"},{"offset":0.472,"color":"#e11"},{"offset":0.476,"color":"#fff"},
{"offset":0.48,"color":"#e11"},{"offset":0.484,"color":"#fff"},{"offset":0.488,"color":"#e11"},{"offset":0.492,"color":"#fff"},{"offset":0.496,"color":"#e11"},{"offset":0.5,"color":"#fff"},{"offset":0.504,"color":"#e11"},{"offset":0.508,"color":"#fff"},{"offset":0.512,"color":"#e11"},{"offset":0.516,"color":"#fff"},
{"offset":0.52,"color":"#e11"},{"offset":0.524,"color":"#fff"},{"offset":0.528,"color":"#e11"},{"offset":0.532,"color":"#fff"},{"offset":0.536,"color":"#e11"},{"offset":0.54,"color":"#fff"},{"offset":0.544,"color":"#e11"},{"offset":0.548,"color":"#fff"},{"offset":0.552,"color":"#e11"},{"offset":0.556,"color":"#fff"},
{"offset":0.56,"color":"#e11"},{"offset":0.564,"color":"#fff"},{"offset":0.568,"color":"#e11"},{"offset":0.572,"color":"#fff"},{"offset":0.576,"color":"#e11"},{"offset":0.58,"color":"#fff"},{"offset":0.584,"color":"#e11"},{"offset":0.588,"color":"#fff"},{"offset":0.592,"color":"#e11"},{"offset":0.596,"color":"#fff"},
{"offset":0.6,"color":"#e11"},{"offset":0.604,"color":"#fff"},{"offset":0.608,"color":"#e11"},{"offset":0.612,"color":"#fff"},{"offset":0.616,"color":"#e11"},{"offset":0.62,"color":"#fff"},{"offset":0.624,"color":"#e11"},{"offset":0.628,"color":"#fff"},{"offset":0.632,"color":"#e11"},{"offset":0.636,"color":"#fff"},
{"offset":0.64,"color":"#e11"},{"offset":0.644,"color":"#fff"},{"offset":0.648,"color":"#e11"},{"offset":0.652,"color":"#fff"},{"offset":0.656,"color":"#e11"},{"offset":0.66,"color":"#fff"},{"offset":0.664,"color":"#e11"},{"offset":0.668,"color":"#fff"},{"offset":0.672,"color":"#e11"},{"offset":0.676,"color":"#fff"},
{"offset":0.68,"color":"#e11"},{"offset":0.684,"color":"#fff"},{"offset":0.688,"color":"#e11"},{"offset":0.692,"color":"#fff"},{"offset":0.696,"color":"#e11"},{"offset":0.7,"color":"#fff"},{"offset":0.704,"color":"#e11"},{"offset":0.708,"color":"#fff"},{"offset":0.712,"color":"#e11"},{"offset":0.716,"color":"#fff"},
{"offset":0.72,"color":"#e11"},{"offset":0.724,"color":"#fff"},{"offset":0.728,"color":"#e11"},{"offset":0.732,"color":"#fff"},{"offset":0.736,"color":"#e11"},{"offset":0.74,"color":"#fff"},{"offset":0.744,"color":"#e11"},{"offset":0.748,"color":"#fff"},{"offset":0.752,"color":"#e11"},{"offset":0.756,"color":"#fff"},
{"offset":0.76,"color":"#e11"},{"offset":0.764,"color":"#fff"},{"offset":0.768,"color":"#e11"},{"offset":0.772,"color":"#fff"},{"offset":0.776,"color":"#e11"},{"offset":0.78,"color":"#fff"},{"offset":0.784,"color":"#e11"},{"offset":0.788,"color":"#fff"},{"offset":0.792,"color":"#e11"},{"offset":0.796,"color":"#fff"},
{"offset":0.8,"color":"#e11"},{"offset":0.804,"color":"#fff"},{"offset":0.808,"color":"#e11"},{"offset":0.812,"color":"#fff"},{"offset":0.816,"color":"#e11"},{"offset":0.82,"color":"#fff"},{"offset":0.824,"color":"#e11"},{"offset":0.828,"color":"#fff"},{"offset":0.832,"color":"#e11"},{"offset":0.836,"color":"#fff"},
{"offset":0.84,"color":"#e11"},{"offset":0.844,"color":"#fff"},{"offset":0.848,"color":"#e11"},{"offset":0.852,"color":"#fff"},{"offset":0.856,"color":"#e11"},{"offset":0.86,"color":"#fff"},{"offset":0.864,"color":"#e11"},{"offset":0.868,"color":"#fff"},{"offset":0.872,"color":"#e11"},{"offset":0.876,"color":"#fff"},
{"offset":0.88,"color":"#e11"},{"offset":0.884,"color":"#fff"},{"offset":0.888,"color":"#e11"},{"offset":0.892,"color":"#fff"},{"offset":0.896,"color":"#e11"},{"offset":0.9,"color":"#fff"},{"offset":0.904,"color":"#e11"},{"offset":0.908,"color":"#fff"},{"offset":0.912,"color":"#e11"},{"offset":0.916,"color":"#fff"},
{"offset":0.92,"color":"#e11"},{"offset":0.924,"color":"#fff"},{"offset":0.928,"color":"#e11"},{"offset":0.932,"color":"#fff"},{"offset":0.936,"color":"#e11"},{"offset":0.94,"color":"#fff"},{"offset":0.944,"color":"#e11"},{"offset":0.948,"color":"#fff"},{"offset":0.952,"color":"#e11"},{"offset":0.956,"color":"#fff"},
{"offset":0.96,"color":"#e11"},{"offset":0.964,"color":"#fff"},{"offset":0.968,"color":"#e11"},{"offset":0.972,"color":"#fff"},{"offset":0.976,"color":"#e11"},{"offset":0.98,"color":"#fff"},{"offset":0.984,"color":"#e11"},{"offset":0.988,"color":"#fff"},{"offset":0.992,"color":"#e11"},{"offset":0.996,"color":"#fff"},
{"offset":1,"color":"#e11"}
]}},
"encoding":{
"x":{"field":"a0","type":"quantitative","scale":{"domain":[0,210],"reverse":true,"nice":false,"zero":false},"axis":{"orient":"top","values":[200,150,100,50,0],"labels":false,"title":null,"tickSize":12,"tickWidth":3,"domainWidth":3,"zindex":1}},
"x2":{"field":"a1"},
"y":{"field":"s0","type":"quantitative","scale":{"domain":[0.70661,0.7094],"nice":false,"zero":false},"axis":{"orient":"right","values":[0.7067,0.7068,0.7069,0.707,0.7071,0.7072,0.7073,0.7074,0.7075,0.7076,0.7077,0.7078,0.7079,0.708,0.7081,0.7082,0.7083,0.7084,0.7085,0.7086,0.7087,0.7088,0.7089,0.709,0.7091,0.7092,0.7093,0.7094],"labels":false,"title":null,"tickSize":7,"tickWidth":2.5,"domainWidth":3,"zindex":1}},
"y2":{"field":"s1"}
}},
{"data":{"values":[{"band":"Saint-Emilion","a0":35.8,"a1":30.4,"s0":0.7068,"s1":0.7079}]},
"mark":{"type":"rect","fill":{"gradient":"linear","x1":0,"y1":0,"x2":0.114,"y2":1.0925,"stops":[
{"offset":0,"color":"#e11"},{"offset":0.012,"color":"#fff"},{"offset":0.024,"color":"#e11"},{"offset":0.036,"color":"#fff"},{"offset":0.048,"color":"#e11"},{"offset":0.06,"color":"#fff"},{"offset":0.072,"color":"#e11"},{"offset":0.084,"color":"#fff"},{"offset":0.096,"color":"#e11"},{"offset":0.108,"color":"#fff"},
{"offset":0.12,"color":"#e11"},{"offset":0.132,"color":"#fff"},{"offset":0.144,"color":"#e11"},{"offset":0.156,"color":"#fff"},{"offset":0.168,"color":"#e11"},{"offset":0.18,"color":"#fff"},{"offset":0.192,"color":"#e11"},{"offset":0.204,"color":"#fff"},{"offset":0.216,"color":"#e11"},{"offset":0.228,"color":"#fff"},
{"offset":0.24,"color":"#e11"},{"offset":0.252,"color":"#fff"},{"offset":0.264,"color":"#e11"},{"offset":0.276,"color":"#fff"},{"offset":0.288,"color":"#e11"},{"offset":0.3,"color":"#fff"},{"offset":0.312,"color":"#e11"},{"offset":0.324,"color":"#fff"},{"offset":0.336,"color":"#e11"},{"offset":0.348,"color":"#fff"},
{"offset":0.36,"color":"#e11"},{"offset":0.372,"color":"#fff"},{"offset":0.384,"color":"#e11"},{"offset":0.396,"color":"#fff"},{"offset":0.408,"color":"#e11"},{"offset":0.42,"color":"#fff"},{"offset":0.432,"color":"#e11"},{"offset":0.444,"color":"#fff"},{"offset":0.456,"color":"#e11"},{"offset":0.468,"color":"#fff"},
{"offset":0.48,"color":"#e11"},{"offset":0.492,"color":"#fff"},{"offset":0.504,"color":"#e11"},{"offset":0.516,"color":"#fff"},{"offset":0.528,"color":"#e11"},{"offset":0.54,"color":"#fff"},{"offset":0.552,"color":"#e11"},{"offset":0.564,"color":"#fff"},{"offset":0.576,"color":"#e11"},{"offset":0.588,"color":"#fff"},
{"offset":0.6,"color":"#e11"},{"offset":0.612,"color":"#fff"},{"offset":0.624,"color":"#e11"},{"offset":0.636,"color":"#fff"},{"offset":0.648,"color":"#e11"},{"offset":0.66,"color":"#fff"},{"offset":0.672,"color":"#e11"},{"offset":0.684,"color":"#fff"},{"offset":0.696,"color":"#e11"},{"offset":0.708,"color":"#fff"},
{"offset":0.72,"color":"#e11"},{"offset":0.732,"color":"#fff"},{"offset":0.744,"color":"#e11"},{"offset":0.756,"color":"#fff"},{"offset":0.768,"color":"#e11"},{"offset":0.78,"color":"#fff"},{"offset":0.792,"color":"#e11"},{"offset":0.804,"color":"#fff"},{"offset":0.816,"color":"#e11"},{"offset":0.828,"color":"#fff"},
{"offset":0.84,"color":"#e11"},{"offset":0.852,"color":"#fff"},{"offset":0.864,"color":"#e11"},{"offset":0.876,"color":"#fff"},{"offset":0.888,"color":"#e11"},{"offset":0.9,"color":"#fff"},{"offset":0.912,"color":"#e11"},{"offset":0.924,"color":"#fff"},{"offset":0.936,"color":"#e11"},{"offset":0.948,"color":"#fff"},
{"offset":0.96,"color":"#e11"},{"offset":0.972,"color":"#fff"},{"offset":0.984,"color":"#e11"},{"offset":0.996,"color":"#fff"}
]}},
"encoding":{
"x":{"field":"a0","type":"quantitative","scale":{"domain":[0,210],"reverse":true,"nice":false,"zero":false},"axis":{"orient":"top","values":[0,10,20,30,40,50,60,70,80,90,100,110,120,130,140,150,160,170,180,190,200],"labels":false,"title":null,"tickSize":6,"tickWidth":2.5,"domain":false,"zindex":1}},
"x2":{"field":"a1"},
"y":{"field":"s0","type":"quantitative","scale":{"domain":[0.70661,0.7094],"nice":false,"zero":false},"axis":{"orient":"left","values":[0.707,0.7075,0.708,0.7085,0.709],"grid":true,"gridDash":[2.5,14.5],"gridColor":"#333","gridWidth":2.5,"ticks":false,"labels":false,"domain":false,"title":null,"zindex":0}},
"y2":{"field":"s1"}
}},
{"data":{"name":"periods"},
"mark":{"type":"rect","fill":"white","stroke":"black","strokeWidth":2.5},
"encoding":{
"x":{"field":"start","type":"quantitative","scale":{"domain":[0,210],"reverse":true,"nice":false,"zero":false},"axis":null},
"x2":{"field":"end"},
"y":{"datum":0.70661,"type":"quantitative","scale":{"domain":[0.70661,0.7094],"nice":false,"zero":false},"axis":null},
"y2":{"datum":0.7068}
}},
{"data":{"name":"periods"},
"mark":{"type":"text","font":"Lato","fontWeight":600,"color":"black","baseline":"middle","align":"center"},
"encoding":{
"x":{"field":"mid","type":"quantitative","scale":{"domain":[0,210],"reverse":true,"nice":false,"zero":false},"axis":null},
"y":{"datum":0.706705,"type":"quantitative","scale":{"domain":[0.70661,0.7094],"nice":false,"zero":false},"axis":null},
"text":{"field":"name"},
"size":{"field":"name","type":"nominal","legend":null,"scale":{"type":"ordinal","domain":["","E. Jurassic","M. Jur.","L. J.","Early Cretaceous","L. Cretaceous","Pal.","Eocene","Olig.","Miocene","Pl"],"range":[20,26,27,24,23,22,23,25,22,20,22]}}
}},
{"data":{"name":"diamonds"},
"mark":{"type":"point","shape":"diamond","filled":true,"color":"black","size":80,"opacity":1,"strokeWidth":1},
"encoding":{
"x":{"field":"age","type":"quantitative","scale":{"domain":[0,210],"reverse":true,"nice":false,"zero":false},"axis":null},
"y":{"field":"sr","type":"quantitative","scale":{"domain":[0.70661,0.7094],"nice":false,"zero":false},"axis":null}
}},
{"data":{"name":"triangles"},
"mark":{"type":"point","shape":"triangle-up","filled":true,"fill":"white","stroke":"black","strokeWidth":1.8,"size":85,"opacity":1},
"encoding":{
"x":{"field":"age","type":"quantitative","scale":{"domain":[0,210],"reverse":true,"nice":false,"zero":false},"axis":null},
"y":{"field":"sr","type":"quantitative","scale":{"domain":[0.70661,0.7094],"nice":false,"zero":false},"axis":null}
}},
{"data":{"name":"circles"},
"mark":{"type":"circle","color":"black","size":115,"opacity":1},
"encoding":{
"x":{"field":"age","type":"quantitative","scale":{"domain":[0,210],"reverse":true,"nice":false,"zero":false},"axis":null},
"y":{"field":"sr","type":"quantitative","scale":{"domain":[0.70661,0.7094],"nice":false,"zero":false},"axis":null}
}},
{"data":{"name":"opencircles"},
"mark":{"type":"point","shape":"circle","filled":true,"fill":"white","stroke":"black","strokeWidth":2.2,"size":60,"opacity":1},
"encoding":{
"x":{"field":"age","type":"quantitative","scale":{"domain":[0,210],"reverse":true,"nice":false,"zero":false},"axis":null},
"y":{"field":"sr","type":"quantitative","scale":{"domain":[0.70661,0.7094],"nice":false,"zero":false},"axis":null}
}},
{"data":{"values":[{"label":"Formation of alluvial terraces of Pomerol","age":109.3,"sr":0.709138},{"label":"Formation of the Saint-Émilion limestone plateau","age":120,"sr":0.708076}]},
"mark":{"type":"text","font":"Open Sans","fontSize":36,"fontStyle":"italic","fontWeight":300,"color":"#111","align":"center","baseline":"alphabetic"},
"encoding":{
"x":{"field":"age","type":"quantitative","scale":{"domain":[0,210],"reverse":true,"nice":false,"zero":false},"axis":null},
"y":{"field":"sr","type":"quantitative","scale":{"domain":[0.70661,0.7094],"nice":false,"zero":false},"axis":null},
"text":{"field":"label"}
}}
]
}
